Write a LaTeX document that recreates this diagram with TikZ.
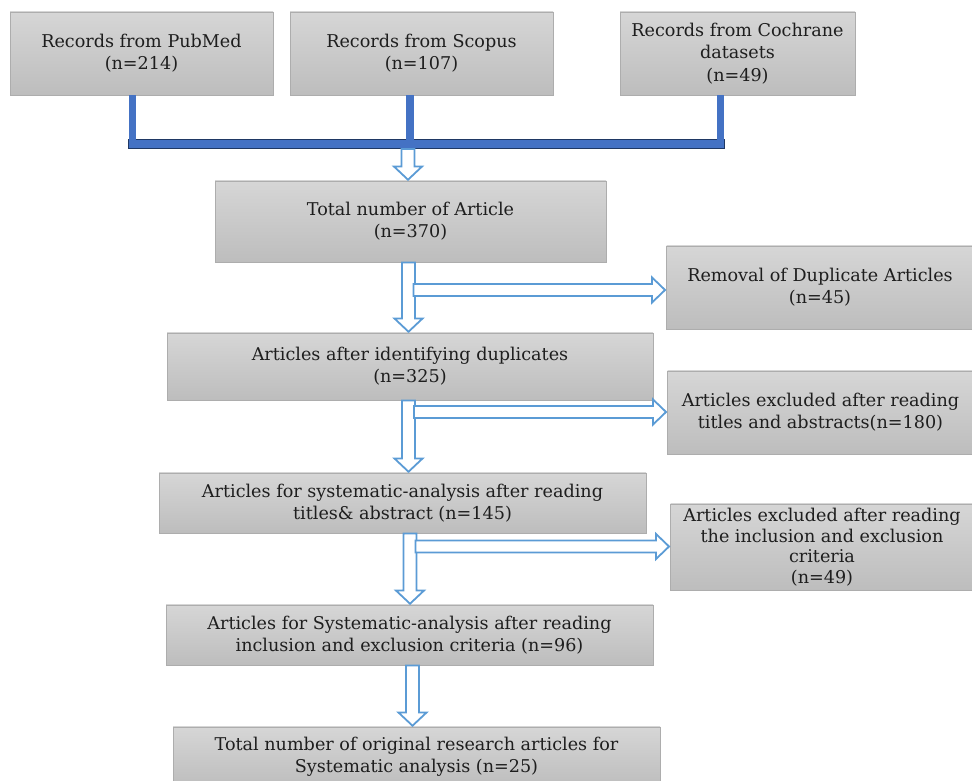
\documentclass[tikz,border=0pt]{standalone}
\usepackage{fontspec}
\setmainfont{DejaVu Serif}
\usetikzlibrary{calc}
\definecolor{boxtop}{HTML}{D6D6D6}
\definecolor{boxbot}{HTML}{BDBDBD}
\definecolor{boxline}{HTML}{ADADAD}
\definecolor{txtgray}{HTML}{1E1E1E}
\definecolor{hollowblue}{HTML}{5B9BD5}
\definecolor{connblue}{HTML}{4472C4}
\definecolor{navy}{HTML}{1F3864}
\newcommand\harrowdown[3]{%
  \draw[hollow] let \p1=(#2.south), \p2=(#3.north) in
    ({#1pt-6.5pt},{\y1}) -- ({#1pt+6.5pt},{\y1}) -- ({#1pt+6.5pt},{\y2+14pt})
    -- ({#1pt+14pt},{\y2+14pt}) -- ({#1pt},{\y2+0.8pt}) -- ({#1pt-14pt},{\y2+14pt})
    -- ({#1pt-6.5pt},{\y2+14pt}) -- cycle;}
\newcommand\harrowright[3]{%
  \draw[hollow] let \p2=(#3.west) in
    ({#2pt},{#1pt+6pt}) -- ({\x2-14pt},{#1pt+6pt}) -- ({\x2-14pt},{#1pt+12.5pt})
    -- ({\x2-1pt},{#1pt}) -- ({\x2-14pt},{#1pt-12.5pt}) -- ({\x2-14pt},{#1pt-6pt})
    -- ({#2pt},{#1pt-6pt}) -- cycle;}
\begin{document}
\begin{tikzpicture}[x=1pt,y=1pt,
  box/.style={draw=boxline, line width=0.9pt, top color=boxtop, bottom color=boxbot,
    align=center, text=txtgray, inner sep=2pt,
    font=\fontsize{17.6}{22.3}\selectfont},
  hollow/.style={draw=hollowblue, line width=1.8pt, fill=white, line join=miter},
  hbar/.style={draw=navy, fill=connblue, line width=1pt, inner sep=0pt,
    minimum width=596pt, minimum height=9pt}]
\useasboundingbox (0,0) rectangle (972,781);
\clip (0,0) rectangle (972,781);
% boxes
\node[box, minimum width=263pt, minimum height=83pt] (b1) at (141.5,727.5)
  {Records from PubMed\\(n=214)};
\node[box, minimum width=263pt, minimum height=83pt] (b2) at (421.5,727.5)
  {Records from Scopus\\(n=107)};
\node[box, minimum width=235pt, minimum height=83pt] (b3) at (737.5,727.5)
  {Records from Cochrane\\datasets\\(n=49)};
\node[box, minimum width=391pt, minimum height=81pt] (b4) at (410.5,559.5)
  {Total number of Article\\(n=370)};
\node[box, minimum width=307pt, minimum height=83pt] (b5) at (820,493.5)
  {Removal of Duplicate Articles\\(n=45)};
\node[box, minimum width=486pt, minimum height=67pt] (b6) at (410,414.5)
  {Articles after identifying duplicates\\(n=325)};
\node[box, minimum width=306pt, minimum height=83pt] (b7) at (820.5,368.5)
  {Articles excluded after reading\\titles and abstracts(n=180)};
\node[box, minimum width=487pt, minimum height=60pt] (b8) at (402.5,278)
  {Articles for systematic-analysis after reading\\titles\& abstract (n=145)};
\node[box, minimum width=303pt, minimum height=86pt, font=\fontsize{17.6}{20.5}\selectfont] (b9) at (822,234)
  {Articles excluded after reading\\the inclusion and exclusion\\criteria\\(n=49)};
\node[box, minimum width=487pt, minimum height=60pt] (b10) at (409.5,146)
  {Articles for Systematic-analysis after reading\\inclusion and exclusion criteria (n=96)};
\node[box, minimum width=487pt, minimum height=60pt] (b11) at (416.5,24)
  {Total number of original research articles for\\Systematic analysis (n=25)};
% blue joining connector
\node[hbar] (bar) at (426,637) {};
\coordinate (j1) at (132.5,641);
\coordinate (j2) at (410,641);
\coordinate (j3) at (720.5,641);
\fill[connblue] ($(b1.south -| j1)+(-3.5,0)$) rectangle ($(j1)+(3.5,0)$);
\fill[connblue] ($(b2.south -| j2)+(-4,0)$) rectangle ($(j2)+(4,0)$);
\fill[connblue] ($(b3.south -| j3)+(-3.5,0)$) rectangle ($(j3)+(3.5,0)$);
% hollow arrows
\harrowdown{408}{bar}{b4}
\harrowdown{408.5}{b4}{b6}
\harrowright{491}{413.5}{b5}
\harrowdown{408.5}{b6}{b8}
\harrowright{369}{414}{b7}
\harrowdown{410}{b8}{b10}
\harrowright{234.5}{415.5}{b9}
\harrowdown{412.5}{b10}{b11}
\end{tikzpicture}
\end{document}
